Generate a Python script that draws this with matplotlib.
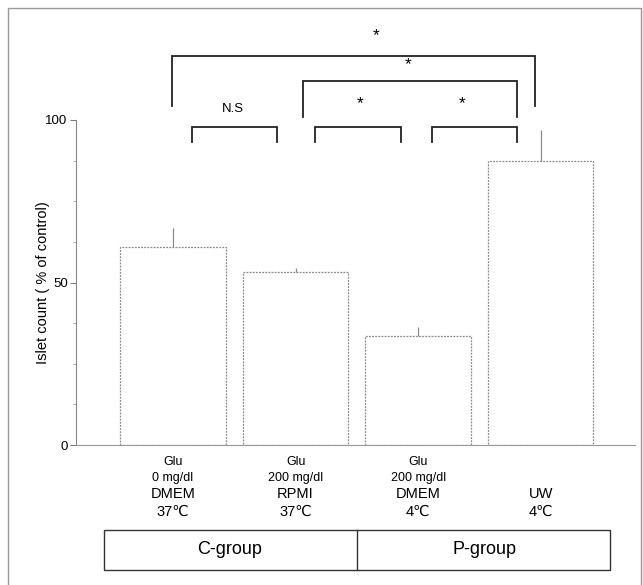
import numpy as np
import matplotlib.pyplot as plt
from matplotlib.lines import Line2D
from matplotlib.patches import Rectangle

plt.rcParams['font.family'] = ['Liberation Sans', 'DejaVu Sans']

# islet survival after storage, % of control
means = [60.9, 53.2, 33.5, 87.4]
errs = [5.9, 1.3, 2.8, 9.6]
cond_small = [["Glu", "0 mg/dl"], ["Glu", "200 mg/dl"], ["Glu", "200 mg/dl"], ["", ""]]
cond_big = [["DMEM", "37\u2103"], ["RPMI", "37\u2103"], ["DMEM", "4\u2103"], ["UW", "4\u2103"]]
groups = ["C-group", "P-group"]

# significance brackets: (x left, x right, top, leg bottom, label, label x, label y)
brackets = [
    (-0.01, 2.95, 119.7, 104.3, "*", 1.66, 126.0),
    (1.06, 2.81, 112.0, 100.9, "*", 1.92, 117.0),
    (0.155, 0.85, 97.8, 93.2, "N.S", 0.49, 103.3),
    (1.16, 1.86, 97.8, 93.2, "*", 1.53, 105.0),
    (2.11, 2.81, 97.8, 93.2, "*", 2.36, 105.0),
]

W, H = 643, 585
fig = plt.figure(figsize=(W / 100, H / 100), dpi=100)
ax = fig.add_axes([76 / W, (H - 445) / H, (635 - 76) / W, 325 / H])

x = np.arange(len(means))
ax.bar(x, means, width=0.86, color='white', edgecolor='#8a8a8a',
       linewidth=0.9, linestyle=(0, (1.5, 1)))
ax.errorbar(x, means, yerr=[np.zeros(len(errs)), errs], fmt='none',
            ecolor='#8a8a8a', elinewidth=0.9, capsize=0)

ax.set_xlim(-0.792, 3.77)
ax.set_ylim(0, 100)
ax.set_yticks([0, 50, 100])
ax.set_yticks([12.5, 25, 37.5, 62.5, 75, 87.5], minor=True)
ax.set_xticks([])
ax.tick_params(axis='y', which='major', length=4, width=0.7, color='#777',
               labelsize=9.5, pad=2)
ax.tick_params(axis='y', which='minor', length=2, width=0.6, color='#999')
for s in ['top', 'right']:
    ax.spines[s].set_visible(False)
ax.spines['left'].set_color('#888')
ax.spines['left'].set_linewidth(0.8)
ax.spines['bottom'].set_color('#999')
ax.spines['bottom'].set_linewidth(0.8)
ax.spines['bottom'].set_linestyle((0, (2, 1)))
ax.set_ylabel("Islet count ( % of control)", fontsize=10.5, labelpad=-3)

for x0, x1, top, bot, lab, lx, ly in brackets:
    ax.plot([x0, x0, x1, x1], [bot, top, top, bot], color='#222',
            linewidth=1.3, clip_on=False, solid_joinstyle='miter')
    fs = 9.5 if lab == "N.S" else 12.5
    ax.text(lx, ly, lab, ha='center', va='center', fontsize=fs, clip_on=False)

# condition labels under each bar
for i in x:
    xf = fig.transFigure.inverted().transform(ax.transData.transform((i, 0)))[0]
    for j, t in enumerate(cond_small[i]):
        fig.text(xf, 1 - (462 + 16 * j) / H, t, ha='center', va='center', fontsize=9)
    for j, t in enumerate(cond_big[i]):
        fig.text(xf, 1 - (494 + 18 * j) / H, t, ha='center', va='center', fontsize=10.5)

# group box
fig.add_artist(Rectangle((104 / W, 1 - 570 / H), (610 - 104) / W, 40 / H,
                         transform=fig.transFigure, fill=False,
                         edgecolor='#333', linewidth=1.0))
fig.add_artist(Line2D([357 / W, 357 / W], [1 - 570 / H, 1 - 530 / H],
                      transform=fig.transFigure, color='#333', linewidth=1.0))
fig.text(230 / W, 1 - 550 / H, groups[0], ha='center', va='center', fontsize=13)
fig.text(484 / W, 1 - 550 / H, groups[1], ha='center', va='center', fontsize=13)

# outer frame
fig.add_artist(Line2D([8 / W, 8 / W, 641 / W, 641 / W],
                      [0, 1 - 8 / H, 1 - 8 / H, 0],
                      transform=fig.transFigure, color='#999', linewidth=1.0))

fig.savefig("out.png", dpi=100)
